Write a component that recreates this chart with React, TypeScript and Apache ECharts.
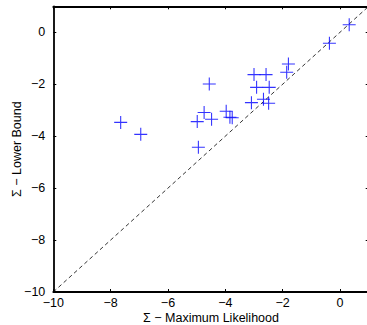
import React, { useEffect, useRef } from "react";
import * as echarts from "echarts";

const mlValues = [-7.65, -6.95, -4.56, -4.94, -4.98, -4.74, -4.48, -3.97, -3.84, -3.76, -3.09, -3.0, -2.58, -2.91, -2.47, -2.67, -2.49, -1.8, -1.86, -0.37, 0.32];
const lbValues = [-3.47, -3.93, -1.99, -4.43, -3.44, -3.09, -3.35, -3.04, -3.27, -3.29, -2.71, -1.63, -1.63, -2.12, -2.12, -2.58, -2.73, -1.22, -1.54, -0.42, 0.29];
const diagonal = [[-10, -10], [1, 1]];
const xTitle = "Σ − Maximum Likelihood";
const yTitle = "Σ − Lower Bound";

const fmt = (v: number) => {
  if (v === 1) return "";
  return v < 0 ? "−" + Math.abs(v) : String(v);
};

const plus = "path://M5.5,0H6.5V5.5H12V6.5H6.5V12H5.5V6.5H0V5.5H5.5Z";

export default function App() {
  const ref = useRef<HTMLDivElement>(null);
  useEffect(() => {
    if (!ref.current) return;
    const chart = echarts.init(ref.current, null, { renderer: "svg" });
    const font = { fontFamily: "Liberation Sans, Arial, sans-serif", fontSize: 12.5, color: "#000" };
    const axisCommon = {
      type: "value" as const,
      min: -10,
      max: 1,
      interval: 2,
      splitLine: { show: false },
      axisLine: { show: true, onZero: false, lineStyle: { color: "#000", width: 1.8 } },
      axisTick: { show: true, inside: true, length: 3, lineStyle: { color: "#000", width: 1 } },
    };
    chart.setOption({
      animation: false,
      grid: { left: 53.3, top: 6.3, right: -1.7, bottom: 33, containLabel: false, outerBoundsMode: "none" },
      xAxis: [
        {
          ...axisCommon,
          position: "bottom",
          name: xTitle,
          nameLocation: "middle",
          nameGap: 19,
          nameMoveOverlap: false,
          nameTextStyle: { ...font },
          axisLabel: { ...font, margin: 4, formatter: fmt, showMaxLabel: false },
        },
        {
          ...axisCommon,
          position: "top",
          axisLabel: { show: false },
        },
      ],
      yAxis: [
        {
          ...axisCommon,
          position: "left",
          name: yTitle,
          nameLocation: "middle",
          nameGap: 30,
          nameMoveOverlap: false,
          nameTextStyle: { ...font },
          axisLabel: { ...font, margin: 8, formatter: fmt, showMaxLabel: false },
        },
        {
          ...axisCommon,
          position: "right",
          axisLabel: { show: false },
        },
      ],
      series: [
        {
          type: "line",
          data: diagonal,
          symbol: "none",
          lineStyle: { color: "#000", width: 0.8, type: [4, 3] },
          z: 1,
        },
        {
          type: "scatter",
          data: mlValues.map((x, i) => [x, lbValues[i]]),
          symbol: plus,
          symbolSize: 13,
          itemStyle: { color: "#0000ff" },
          z: 2,
        },
      ],
    });
    return () => chart.dispose();
  }, []);
  return (
    <div
      ref={ref}
      style={{ position: "fixed", left: 0, top: 0, width: 367, height: 325, background: "#fff" }}
    />
  );
}
